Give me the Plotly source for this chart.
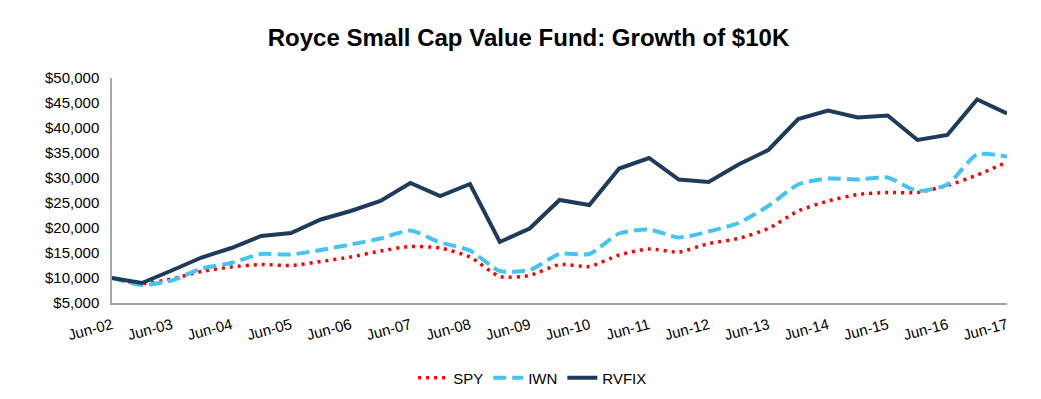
import plotly.graph_objects as go

periods = ["Jun-02","Dec-02","Jun-03","Dec-03","Jun-04","Dec-04","Jun-05","Dec-05",
           "Jun-06","Dec-06","Jun-07","Dec-07","Jun-08","Dec-08","Jun-09","Dec-09",
           "Jun-10","Dec-10","Jun-11","Dec-11","Jun-12","Dec-12","Jun-13","Dec-13",
           "Jun-14","Dec-14","Jun-15","Dec-15","Jun-16","Dec-16","Jun-17"]

spy = [10000, 8900, 9800, 11300, 12200, 12700, 12500, 13300, 14200, 15400, 16300,
       16000, 14200, 10300, 10500, 12700, 12300, 14600, 15800, 15200, 16900, 17900,
       19900, 23400, 25400, 26700, 27100, 27100, 28500, 30600, 33200]
iwn = [10000, 8600, 9500, 11900, 13000, 14800, 14700, 15600, 16700, 17900, 19500,
       17100, 15500, 11400, 11600, 14800, 14800, 18900, 19700, 18100, 19300, 21000,
       24400, 28700, 29900, 29700, 30100, 27400, 28700, 34700, 34300]
rvfix = [10000, 9000, 11500, 14100, 16000, 18400, 19000, 21700, 23400, 25400, 29000,
         26400, 28800, 17200, 19900, 25600, 24600, 31900, 34000, 29700, 29200, 32700,
         35600, 41800, 43500, 42100, 42500, 37600, 38600, 45700, 42900]

tick_labels = ["Jun-02","Jun-03","Jun-04","Jun-05","Jun-06","Jun-07","Jun-08","Jun-09",
               "Jun-10","Jun-11","Jun-12","Jun-13","Jun-14","Jun-15","Jun-16","Jun-17"]
y_ticks = list(range(5000, 50001, 5000))

x = list(range(len(periods)))

fig = go.Figure()
fig.add_trace(go.Scatter(x=x, y=spy, name="SPY", mode="lines",
                         line=dict(color="#FF0000", width=3.5, dash="3px,5px", shape="spline", smoothing=0.6)))
fig.add_trace(go.Scatter(x=x, y=iwn, name="IWN", mode="lines",
                         line=dict(color="#45C4F1", width=4, dash="13px,6px", shape="spline", smoothing=0.6)))
fig.add_trace(go.Scatter(x=x, y=rvfix, name="RVFIX", mode="lines",
                         line=dict(color="#1F3B5C", width=4)))

fig.update_layout(
    width=1041, height=399,
    margin=dict(l=104, r=42, t=70, b=100),
    paper_bgcolor="white", plot_bgcolor="white",
    font=dict(family="Liberation Sans, Arial, sans-serif", size=15, color="black"),
    title=dict(text="<b>Royce Small Cap Value Fund: Growth of $10K</b>",
               x=0.5, xanchor="center", y=1 - 30 / 399, yanchor="middle",
               font=dict(size=24, color="black")),
    showlegend=True,
    legend=dict(orientation="h", x=0.47, xanchor="center", y=-0.26, yanchor="top",
                font=dict(size=15), tracegroupgap=0),
)
fig.update_xaxes(range=[0, 30], tickmode="array",
                 tickvals=[2 * i for i in range(len(tick_labels))], ticktext=tick_labels,
                 tickangle=-15, showgrid=False, zeroline=False,
                 showline=True, linecolor="#A6A6A6", linewidth=1.5, ticks="",
                 ticklabelstandoff=6, tickfont=dict(size=15))
fig.update_yaxes(range=[5000, 50000], tickmode="array", tickvals=y_ticks,
                 ticktext=["${:,}".format(v) for v in y_ticks],
                 showgrid=False, zeroline=False, showline=True,
                 linecolor="#A6A6A6", linewidth=1.5, ticks="",
                 ticklabelstandoff=8, tickfont=dict(size=15))

fig.write_html("out.html")
